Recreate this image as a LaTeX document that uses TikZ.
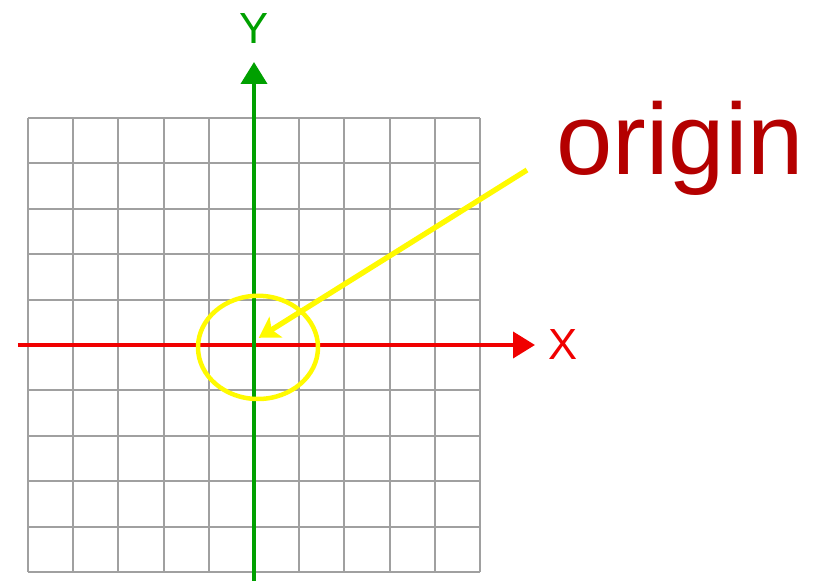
\documentclass[tikz,border=0pt]{standalone}
\usepackage{fontspec}
\setmainfont{Liberation Sans}
\usetikzlibrary{arrows.meta, calc, shapes.geometric}
\definecolor{gridline}{HTML}{A0A0A0}
\definecolor{xaxis}{HTML}{F00000}
\definecolor{yaxis}{HTML}{00A000}
\definecolor{mark}{HTML}{FFFA00}
\definecolor{title}{HTML}{B40000}
\tikzset{
  grd/.style   = {draw=gridline, line width=1.4pt},
  axis/.style  = {line width=2.8pt, -{Triangle[length=0.55cm, width=0.65cm]}},
  alab/.style  = {font=\fontsize{31}{31}\selectfont, inner sep=0pt},
  ring/.style  = {ellipse, draw=mark, line width=3.2pt, inner sep=0pt,
                  minimum width=3cm, minimum height=2.58cm},
  point/.style = {draw=mark, line width=3.8pt,
                  -{Stealth[length=0.5cm, width=0.6cm, inset=0.12cm]}},
}

\begin{document}
\begin{tikzpicture}
\useasboundingbox (0,0) rectangle (20.4,14.525);

% =========================================================================
% Rejilla
% =========================================================================
\foreach \i in {0,...,10}
  \draw[grd] ({0.7+1.13*\i},0.225) -- ({0.7+1.13*\i},11.575);
\foreach \j in {0,...,10}
  \draw[grd] (0.7,{0.225+1.135*\j}) -- (12.0,{0.225+1.135*\j});

% =========================================================================
% Ejes
% =========================================================================
\coordinate (O)  at (6.35,5.9);
\coordinate (xs) at (0.45,5.9);
\coordinate (xe) at (13.375,5.9);
\coordinate (ys) at (6.35,0);
\coordinate (ye) at (6.35,12.975);

\draw[axis, draw=xaxis, fill=xaxis] (xs) -- (xe);
\draw[axis, draw=yaxis, fill=yaxis] (ys) -- (ye);

\node[alab, text=xaxis] (xlab) at (14.075,5.9) {X};
\node[alab, text=yaxis] (ylab) at (6.35,13.8) {Y};

% =========================================================================
% Origen
% =========================================================================
\node[ring] (rg) at (6.45,5.84) {};
\node[anchor=base west, inner sep=0pt, text=title,
      font=\fontsize{72}{72}\selectfont] (org) at (13.9,10.15) {origin};

\coordinate (tail) at (13.175,10.275);
\draw[point, fill=mark] (tail) -- ($(O)+(0.12,0.18)$);

\end{tikzpicture}
\end{document}
